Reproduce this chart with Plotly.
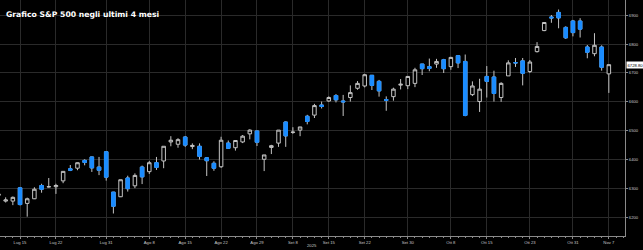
import plotly.graph_objects as go

dates = ["2025-07-10","2025-07-11","2025-07-14","2025-07-15","2025-07-16","2025-07-17","2025-07-18",
         "2025-07-21","2025-07-22","2025-07-23","2025-07-24","2025-07-25","2025-07-28","2025-07-29",
         "2025-07-30","2025-07-31","2025-08-01","2025-08-04","2025-08-05","2025-08-06","2025-08-07",
         "2025-08-08","2025-08-11","2025-08-12","2025-08-13","2025-08-14","2025-08-15","2025-08-18",
         "2025-08-19","2025-08-20","2025-08-21","2025-08-22","2025-08-25","2025-08-26","2025-08-27",
         "2025-08-28","2025-08-29","2025-09-02","2025-09-03","2025-09-04","2025-09-05","2025-09-08",
         "2025-09-09","2025-09-10","2025-09-11","2025-09-12","2025-09-15","2025-09-16","2025-09-17",
         "2025-09-18","2025-09-19","2025-09-22","2025-09-23","2025-09-24","2025-09-25","2025-09-26",
         "2025-09-29","2025-09-30","2025-10-01","2025-10-02","2025-10-03","2025-10-06","2025-10-07",
         "2025-10-08","2025-10-09","2025-10-10","2025-10-13","2025-10-14","2025-10-15","2025-10-16",
         "2025-10-17","2025-10-20","2025-10-21","2025-10-22","2025-10-23","2025-10-24","2025-10-27",
         "2025-10-28","2025-10-29","2025-10-30","2025-10-31","2025-11-03","2025-11-04","2025-11-05",
         "2025-11-06","2025-11-07"]

open_ = [6276,6256,6256,6302,6248,6264,6310,6305,6306,6326,6368,6370,6397,6409,6374,6427,6287,6271,
         6336,6309,6374,6358,6389,6395,6461,6453,6478,6445,6446,6406,6387,6375,6457,6441,6461,6489,
         6499,6401,6442,6457,6530,6494,6502,6550,6554,6589,6603,6622,6603,6615,6647,6655,6692,6671,
         6608,6618,6658,6656,6664,6731,6722,6731,6746,6722,6760,6740,6625,6601,6688,6686,6615,6690,
         6736,6742,6705,6774,6847,6894,6910,6858,6880,6880,6790,6767,6790,6697]
high = [6290,6269,6272,6305,6268,6304,6316,6336,6316,6360,6381,6390,6401,6410,6409,6427,6288,6330,
        6344,6352,6379,6395,6409,6446,6481,6474,6481,6456,6456,6407,6394,6479,6466,6467,6485,6505,
        6500,6416,6451,6502,6532,6512,6513,6555,6593,6601,6619,6627,6624,6657,6672,6697,6693,6676,
        6619,6649,6679,6689,6718,6731,6750,6749,6749,6756,6762,6764,6671,6680,6724,6708,6668,6744,
        6752,6752,6745,6807,6876,6901,6920,6862,6884,6890,6797,6838,6796,6729]
low = [6263,6251,6242,6241,6202,6263,6285,6303,6281,6318,6360,6363,6380,6357,6346,6327,6213,6270,
       6289,6301,6315,6350,6364,6370,6446,6441,6444,6436,6400,6343,6361,6371,6438,6431,6457,6470,
       6447,6360,6419,6444,6444,6489,6481,6522,6544,6577,6600,6598,6551,6601,6642,6650,6641,6618,
       6569,6604,6643,6644,6651,6693,6706,6718,6700,6711,6717,6550,6620,6565,6615,6601,6600,6690,
       6721,6657,6700,6771,6845,6874,6855,6818,6827,6823,6751,6758,6708,6631]
close = [6280,6260,6269,6244,6264,6297,6297,6306,6310,6359,6363,6389,6390,6371,6363,6339,6238,6330,
         6299,6345,6340,6389,6373,6446,6467,6469,6450,6449,6411,6396,6370,6467,6439,6466,6481,6502,
         6460,6416,6448,6502,6482,6495,6513,6532,6587,6584,6615,6607,6600,6632,6664,6694,6657,6638,
         6605,6644,6661,6688,6711,6715,6716,6740,6715,6754,6735,6553,6655,6644,6671,6629,6664,6735,
         6735,6699,6738,6792,6875,6891,6891,6822,6840,6852,6772,6796,6720,6728.80]

tick_dates = ["2025-07-15","2025-07-22","2025-07-31","2025-08-08","2025-08-15","2025-08-22",
              "2025-08-29","2025-09-08","2025-09-15","2025-09-22","2025-09-30","2025-10-08",
              "2025-10-15","2025-10-23","2025-10-31","2025-11-07"]
tick_labels = ["Lug 15","Lug 22","Lug 31","Ago 8","Ago 15","Ago 22","Ago 29","Set 8","Set 15",
               "Set 22","Set 30","Ott 8","Ott 15","Ott 23","Ott 31","Nov 7"]

title_text = "Grafico S&P 500 negli ultimi 4 mesi"
year_label = "2025"
last_price = close[-1]

BLUE = "#1a8cff"
GRAY = "#c4c4c4"

xi = list(range(len(dates)))
tickvals = [dates.index(d) for d in tick_dates]

# decreasing bodies only (to give blue bodies with gray wicks)
down = [k for k in xi if close[k] < open_[k]]

fig = go.Figure()
fig.add_trace(go.Candlestick(
    x=xi, open=open_, high=high, low=low, close=close,
    increasing=dict(line=dict(color=GRAY, width=1), fillcolor="#000000"),
    decreasing=dict(line=dict(color=GRAY, width=1), fillcolor=BLUE),
    whiskerwidth=0, showlegend=False, hoverinfo="skip"))
fig.add_trace(go.Candlestick(
    x=[xi[k] for k in down],
    open=[open_[k] for k in down], high=[open_[k] for k in down],
    low=[close[k] for k in down], close=[close[k] for k in down],
    increasing=dict(line=dict(color=BLUE, width=1), fillcolor=BLUE),
    decreasing=dict(line=dict(color=BLUE, width=1), fillcolor=BLUE),
    whiskerwidth=0, showlegend=False, hoverinfo="skip"))

fig.update_layout(
    width=643, height=250,
    margin=dict(l=0, r=18, t=0, b=14),
    paper_bgcolor="#000000", plot_bgcolor="#000000",
    font=dict(family="Liberation Sans, Arial, sans-serif", color="#c8c8c8", size=4.2),
    title=dict(text="<b>" + title_text + "</b>", xref="container", yref="container",
               x=6/643, xanchor="left", y=1-14/250, yanchor="middle",
               font=dict(family="DejaVu Sans, sans-serif", size=7.7, color="#ffffff")),
    xaxis=dict(range=[0.21, 87.25], tickmode="array", tickvals=tickvals, ticktext=tick_labels,
               showgrid=True, gridcolor="#2a2a2a", gridwidth=1, zeroline=False,
               showline=True, linecolor="#8a8a8a", linewidth=1,
               ticks="outside", ticklen=2, tickcolor="#8a8a8a",
               minor=dict(dtick=1, tick0=0, ticks="outside", ticklen=1, tickcolor="#8a8a8a", showgrid=False),
               rangeslider=dict(visible=False), tickfont=dict(size=4.2, color="#c8c8c8")),
    yaxis=dict(side="right", range=[6135, 6953], dtick=100, tick0=6200,
               showgrid=True, gridcolor="#2a2a2a", gridwidth=1, zeroline=False,
               showline=True, linecolor="#8a8a8a", linewidth=1,
               ticks="outside", ticklen=2, tickcolor="#8a8a8a",
               tickfont=dict(size=4.2, color="#c8c8c8")),
    annotations=[
        dict(text=year_label, xref="paper", yref="paper", x=0.4987, y=-0.04,
             xanchor="center", yanchor="middle", showarrow=False,
             font=dict(size=4.2, color="#c8c8c8")),
        dict(text="%.2f" % last_price, xref="paper", yref="y", x=1, y=last_price,
             xanchor="left", yanchor="middle", xshift=1, showarrow=False,
             bgcolor="#ffffff", borderpad=0.5, font=dict(size=4.2, color="#000000")),
    ],
)

fig.write_html("out.html")
